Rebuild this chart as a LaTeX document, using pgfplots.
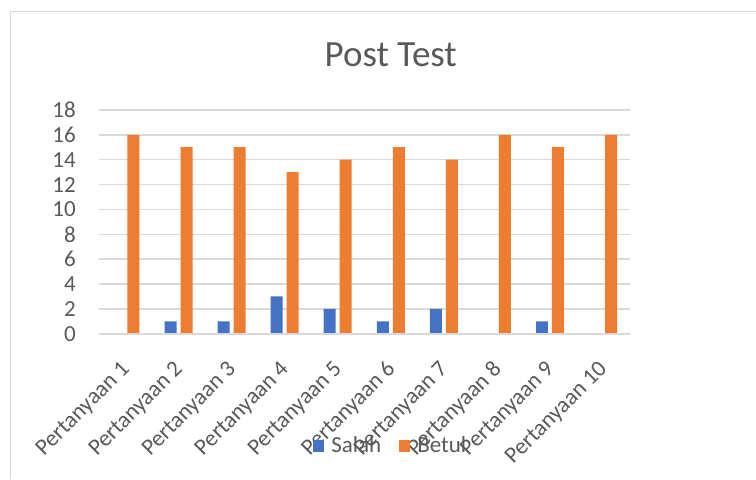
\documentclass[border=0pt]{standalone}
\usepackage{fontspec}
\setmainfont{Carlito}
\usepackage{pgfplots}
\pgfplotsset{compat=1.18}
\definecolor{cblue}{HTML}{4472C4}
\definecolor{corange}{HTML}{ED7D31}
\definecolor{ctext}{HTML}{595959}
\definecolor{cgrid}{HTML}{D9D9D9}
\begin{document}
\begin{tikzpicture}
\begin{axis}[
  scale only axis,
  width=531pt, height=224pt,
  at={(0pt,0pt)}, anchor=origin,
  xmin=0.5, xmax=10.5,
  ymin=0, ymax=18,
  ytick={0,2,...,18},
  xtick={1,...,10},
  xticklabels={Pertanyaan 1,Pertanyaan 2,Pertanyaan 3,Pertanyaan 4,Pertanyaan 5,Pertanyaan 6,Pertanyaan 7,Pertanyaan 8,Pertanyaan 9,Pertanyaan 10},
  axis line style={draw=none},
  major tick length=0pt,
  ymajorgrids,
  grid style={cgrid, line width=1.5pt},
  tick label style={font=\fontsize{23}{27}\selectfont, text=ctext},
  /pgf/number format/assume math mode=true,
  yticklabel style={anchor=east, inner sep=0pt, xshift=-23pt},
  xticklabel style={rotate=45, anchor=north east, inner sep=0pt, xshift=-22pt, yshift=-14pt},
  ybar, bar width=12pt,
  legend style={at={(0.55,-0.5)}, anchor=center, draw=none, fill=none,
    font=\fontsize{23}{27}\selectfont, text=ctext, legend columns=2,
    /tikz/every odd column/.append style={column sep=5pt},
    /tikz/every even column/.append style={column sep=16pt},
    legend cell align=left},
  legend image code/.code={\fill[#1] (0pt,-6pt) rectangle (11pt,6pt);},
  clip=false,
]
\addplot[fill=cblue, draw=none, bar shift=-8pt] coordinates {(1,0) (2,1) (3,1) (4,3) (5,2) (6,1) (7,2) (8,0) (9,1) (10,0)};
\addlegendentry{Salah}
\addplot[fill=corange, draw=none, bar shift=8pt] coordinates {(1,16) (2,15) (3,15) (4,13) (5,14) (6,15) (7,14) (8,16) (9,15) (10,16)};
\addlegendentry{Betul}
\draw[cgrid, line width=1.5pt] (rel axis cs:0,0) -- (rel axis cs:1,0);
\end{axis}
\draw[cgrid, line width=1pt] (-88pt,-145pt) -- (-88pt,322.5pt) -- (657pt,322.5pt);
\node[anchor=base, font=\fontsize{37}{44}\selectfont, text=ctext] at (292pt,267pt) {Post Test};
\useasboundingbox (-99pt,-145pt) rectangle (657pt,334pt);
\end{tikzpicture}
\end{document}
